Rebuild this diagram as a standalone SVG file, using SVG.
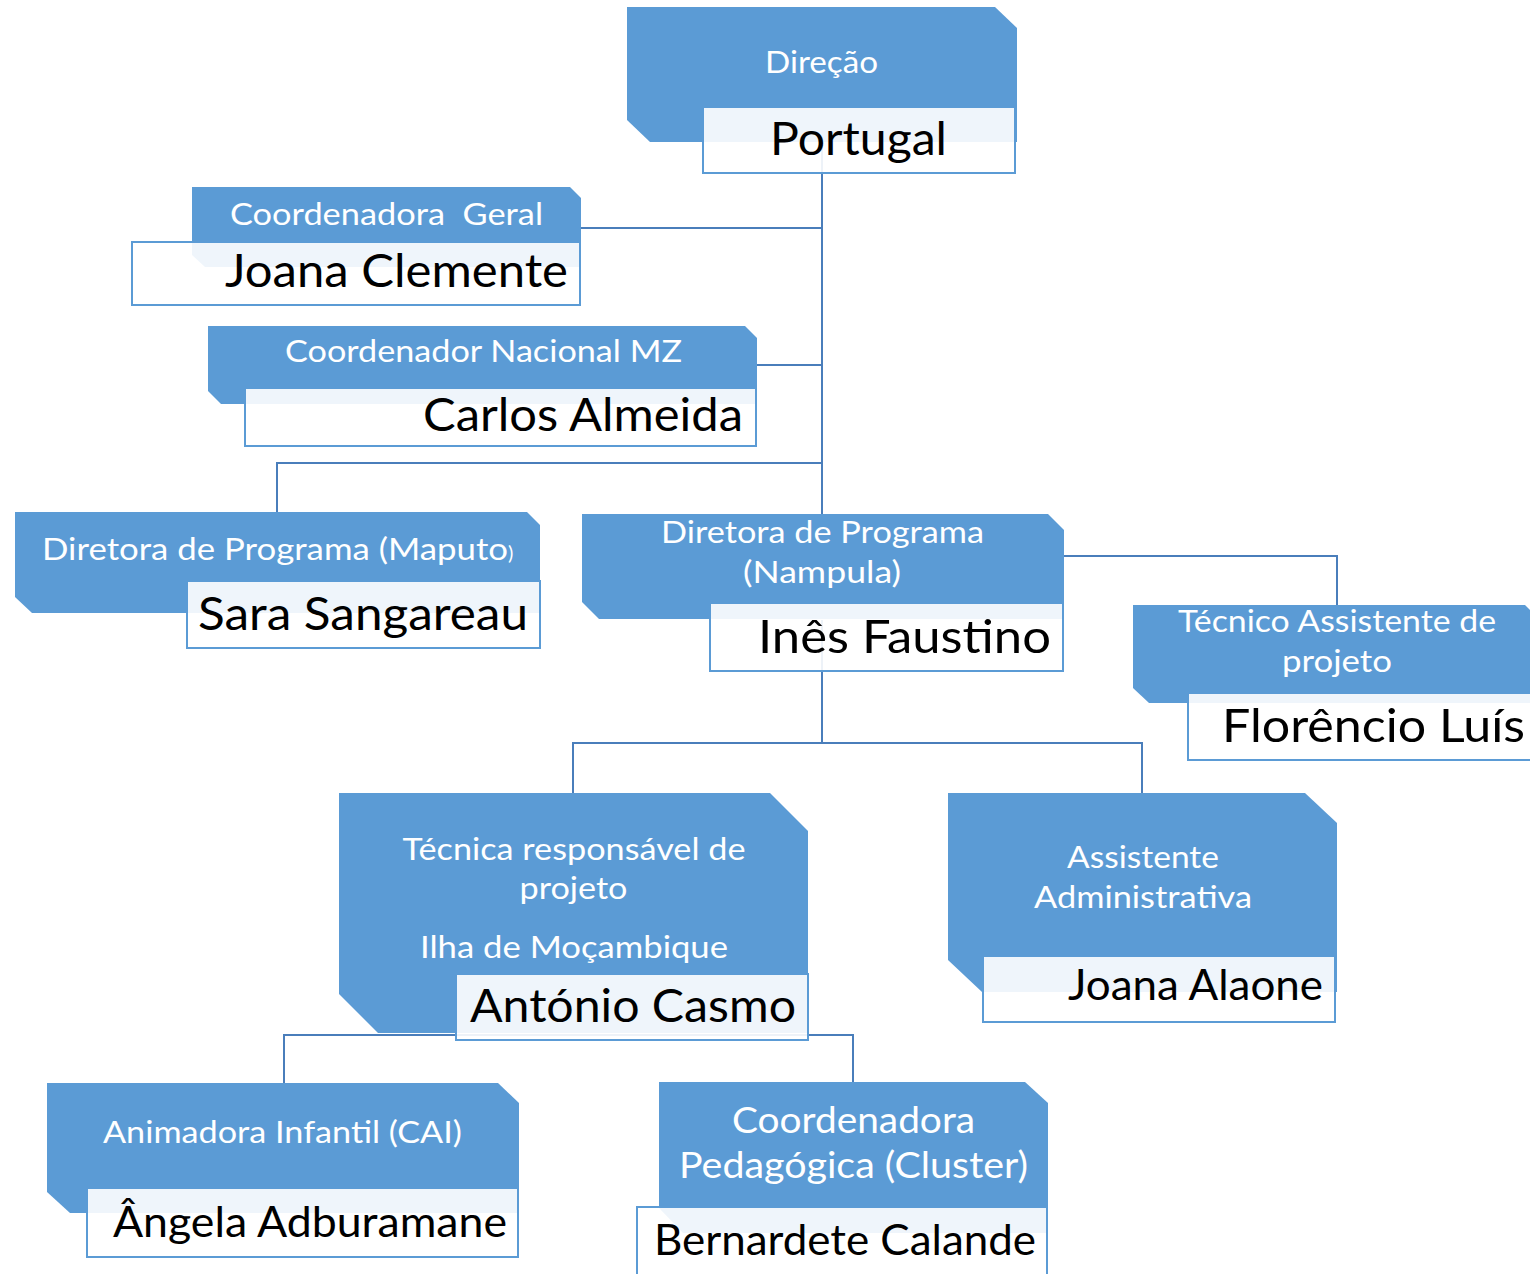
<svg xmlns="http://www.w3.org/2000/svg" width="1530" height="1274" viewBox="0 0 1530 1274">
<style>
.sh{fill:#5B9BD5}
.nb{fill:#FFFFFF;fill-opacity:0.9;stroke:#5B9BD5;stroke-width:2}
.cn{fill:none;stroke:#4A7EBB;stroke-width:2}
.lb{font-family:Lato,"Liberation Sans",sans-serif;fill:#FFFFFF;font-size:30px;text-anchor:middle}
.nm{font-family:Lato,"Liberation Sans",sans-serif;fill:#000000;font-size:46px;text-anchor:middle}
</style>
<rect width="1530" height="1274" fill="#FFFFFF"/>
<g id="connectors">
<path class="cn" d="M822 142 V515"/>
<path class="cn" d="M581 228 H822"/>
<path class="cn" d="M757 365 H822"/>
<path class="cn" d="M277 513 V463 H822"/>
<path class="cn" d="M1063 556 H1337 V605"/>
<path class="cn" d="M822 620 V743"/>
<path class="cn" d="M573 793 V743 H1142 V793"/>
<path class="cn" d="M284 1083 V1035 H853 V1082"/>
</g>
<g id="node-direcao">
<polygon class="sh" points="627,7 995,7 1017,28 1017,142 650,142 627,120"/>
<rect class="nb" x="703" y="107" width="312" height="66"/>
<text class="lb" x="821.5" y="73" textLength="113" lengthAdjust="spacingAndGlyphs">Direção</text>
<text class="nm" x="858.5" y="155" textLength="177" lengthAdjust="spacingAndGlyphs">Portugal</text>
</g>
<g id="node-coord-geral">
<polygon class="sh" points="192,187 570,187 581,198 581,267 205,267 192,255"/>
<rect class="nb" x="132" y="242" width="448" height="63"/>
<text class="lb" x="386.5" y="225" textLength="313" lengthAdjust="spacingAndGlyphs">Coordenadora&#160; Geral</text>
<text class="nm" x="396.5" y="287" textLength="343" lengthAdjust="spacingAndGlyphs">Joana Clemente</text>
</g>
<g id="node-coord-nacional">
<polygon class="sh" points="208,326 745,326 757,338 757,404 221,404 208,391"/>
<rect class="nb" x="245" y="388" width="511" height="58"/>
<text class="lb" x="483.5" y="362" textLength="397" lengthAdjust="spacingAndGlyphs">Coordenador Nacional MZ</text>
<text class="nm" x="583" y="431" textLength="320" lengthAdjust="spacingAndGlyphs">Carlos Almeida</text>
</g>
<g id="node-maputo">
<polygon class="sh" points="15,512 527,512 540,525 540,613 32,613 15,597"/>
<rect class="nb" x="187" y="581" width="353" height="67"/>
<text class="lb" x="42" y="560" style="text-anchor:start" textLength="466" lengthAdjust="spacingAndGlyphs">Diretora de Programa (Maputo</text>
<text class="lb" x="508" y="560" style="text-anchor:start;font-size:20px">)</text>
<text class="nm" x="363" y="630" textLength="330" lengthAdjust="spacingAndGlyphs">Sara Sangareau</text>
</g>
<g id="node-nampula">
<polygon class="sh" points="582,514 1048,514 1064,530 1064,619 599,619 582,602"/>
<rect class="nb" x="710" y="603" width="353" height="68"/>
<text class="lb" x="822.5" y="543" textLength="323" lengthAdjust="spacingAndGlyphs">Diretora de Programa</text>
<text class="lb" x="822" y="583" textLength="158" lengthAdjust="spacingAndGlyphs">(Nampula)</text>
<text class="nm" x="904.5" y="653" textLength="293" lengthAdjust="spacingAndGlyphs">Inês Faustino</text>
</g>
<g id="node-tecnico-assistente">
<polygon class="sh" points="1133,605 1525,605 1541,621 1541,703 1149,703 1133,688"/>
<rect class="nb" x="1188" y="693" width="352" height="67"/>
<text class="lb" x="1337" y="632" textLength="318" lengthAdjust="spacingAndGlyphs">Técnico Assistente de</text>
<text class="lb" x="1337" y="672" textLength="110" lengthAdjust="spacingAndGlyphs">projeto</text>
<text class="nm" x="1222" y="742" style="text-anchor:start" textLength="303" lengthAdjust="spacingAndGlyphs">Florêncio Luís</text>
</g>
<g id="node-tecnica-responsavel">
<polygon class="sh" points="339,793 770,793 808,831 808,1033 378,1033 339,994"/>
<rect class="nb" x="456" y="974" width="352" height="66"/>
<text class="lb" x="574" y="860" textLength="343" lengthAdjust="spacingAndGlyphs">Técnica responsável de</text>
<text class="lb" x="573.5" y="899" textLength="108" lengthAdjust="spacingAndGlyphs">projeto</text>
<text class="lb" x="574" y="958" textLength="308" lengthAdjust="spacingAndGlyphs">Ilha de Moçambique</text>
<text class="nm" x="633" y="1022" textLength="326" lengthAdjust="spacingAndGlyphs">António Casmo</text>
</g>
<g id="node-assistente-administrativa">
<polygon class="sh" points="948,793 1305,793 1337,823 1337,992 982,992 948,960"/>
<rect class="nb" x="983" y="956" width="352" height="66"/>
<text class="lb" x="1143" y="868" textLength="152" lengthAdjust="spacingAndGlyphs">Assistente</text>
<text class="lb" x="1143" y="908" textLength="218" lengthAdjust="spacingAndGlyphs">Administrativa</text>
<text class="nm" x="1195.5" y="1000" style="font-size:42px" textLength="255" lengthAdjust="spacingAndGlyphs">Joana Alaone</text>
</g>
<g id="node-animadora">
<polygon class="sh" points="47,1083 498,1083 519,1103 519,1213 70,1213 47,1192"/>
<rect class="nb" x="87" y="1188" width="431" height="69"/>
<text class="lb" x="282.5" y="1143" textLength="359" lengthAdjust="spacingAndGlyphs">Animadora Infantil (CAI)</text>
<text class="nm" x="310" y="1237" style="font-size:42px" textLength="394" lengthAdjust="spacingAndGlyphs">Ângela Adburamane</text>
</g>
<g id="node-coord-pedagogica">
<polygon class="sh" points="659,1082 1025,1082 1048,1103 1048,1233 683,1233 659,1208"/>
<rect class="nb" x="637" y="1207" width="410" height="80"/>
<text class="lb" x="853.5" y="1133" style="font-size:36px" textLength="243" lengthAdjust="spacingAndGlyphs">Coordenadora</text>
<text class="lb" x="853.5" y="1178" style="font-size:36px" textLength="349" lengthAdjust="spacingAndGlyphs">Pedagógica (Cluster)</text>
<text class="nm" x="845" y="1255" style="font-size:42px" textLength="382" lengthAdjust="spacingAndGlyphs">Bernardete Calande</text>
</g>
</svg>
